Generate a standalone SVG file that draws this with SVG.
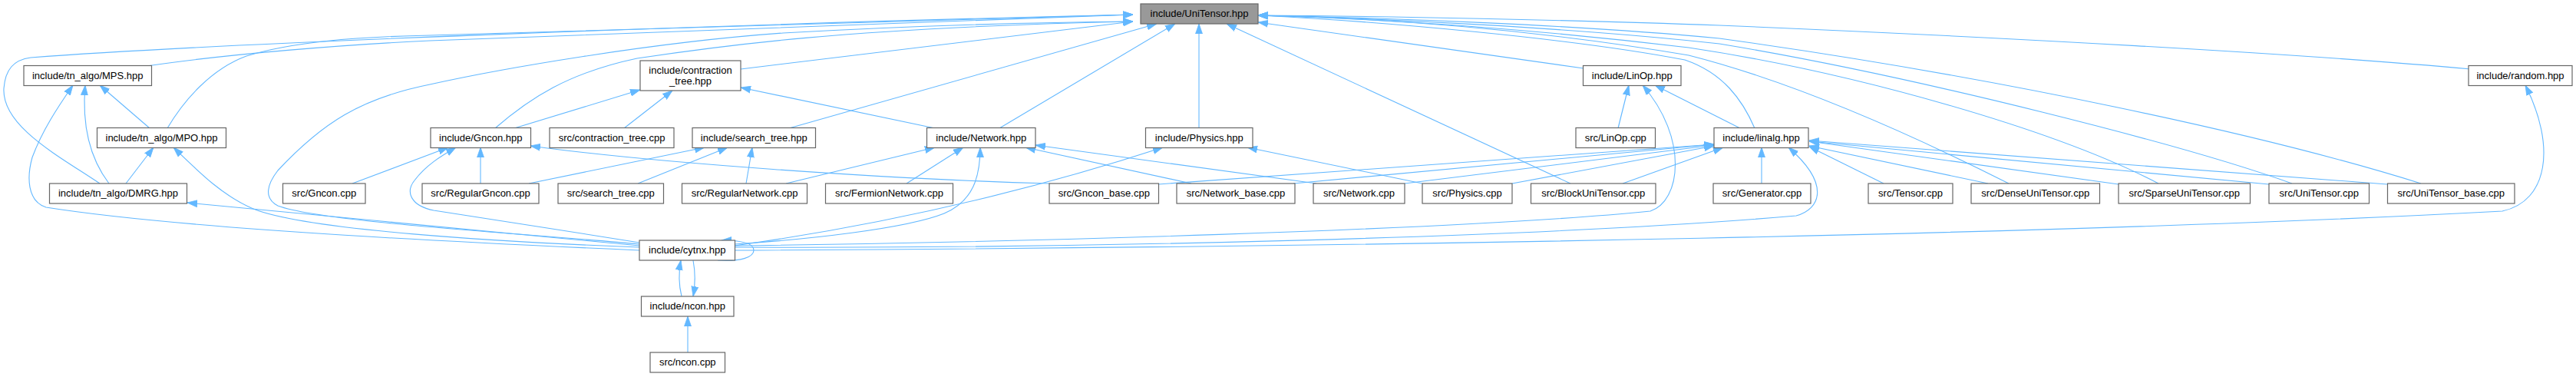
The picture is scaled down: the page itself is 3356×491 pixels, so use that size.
<svg xmlns="http://www.w3.org/2000/svg" width="3356" height="491" viewBox="0 0 3356 491">
<style>
.node rect{fill:#ffffff;stroke:#666666;stroke-width:1.2}
.root rect{fill:#999999}
text{font-family:"Liberation Sans",Arial,Helvetica,sans-serif;font-size:13px;text-anchor:middle;fill:#000000}
.edges path{fill:none;stroke:#63b8ff;stroke-width:1.1;marker-end:url(#ah)}
</style>
<defs>
<marker id="ah" viewBox="0 0 13 10" refX="13" refY="5" markerWidth="13" markerHeight="10" orient="auto" markerUnits="userSpaceOnUse">
<path d="M0,0.5 L13,5 L0,9.5 Z" fill="#63b8ff" stroke="#63b8ff" stroke-width="0.8"/>
</marker>
</defs>
<rect width="3356" height="491" fill="#ffffff"/>
<g class="edges">
<path d="M130,239 C80,205 2,165 5,115 C7,90 18,78 40,75 C300,55 1000,30 1476,19"/>
<path d="M218,167 C240,130 275,90 321,73 C380,55 460,48 560,46 C900,36 1200,26 1476,19"/>
<path d="M191,86 C300,70 450,58 560,53 C900,40 1200,28 1476,19"/>
<path d="M833,318 C700,305 420,290 362,268 C343,258 348,240 362,222 C420,160 470,128 560,110 C650,90 850,55 1020,43 C1200,33 1350,29 1476,28"/>
<path d="M645,167 C690,128 740,95 830,76 C930,61 1100,36 1476,28"/>
<path d="M965,90 L1476,28"/>
<path d="M1028,167 L1507,31"/>
<path d="M1302,167 L1531,31"/>
<path d="M1562,167 L1562,31"/>
<path d="M2046,239 L1598,31"/>
<path d="M2063,89 L1639,29"/>
<path d="M2286,167 C2270,130 2245,95 2195,78 C2050,50 1800,28 1639,20"/>
<path d="M2617,239 C2480,170 2330,105 2200,72 C2000,38 1800,24 1639,20"/>
<path d="M2812,239 C2680,170 2420,95 2200,62 C2000,38 1800,24 1639,20"/>
<path d="M2986,239 C2850,190 2500,100 2240,57 C2050,36 1800,24 1639,20"/>
<path d="M3154,239 C2950,175 2600,100 2240,50 C2050,32 1800,23 1639,20"/>
<path d="M3219,90 C3000,70 2600,48 2240,33 C2050,26 1800,21 1639,20"/>
<path d="M833,326 C650,318 250,300 60,270 C35,262 35,230 42,205 C55,170 75,140 95,111"/>
<path d="M142,239 C120,210 106,170 111,111"/>
<path d="M195,167 L130,111"/>
<path d="M164,239 L200,192"/>
<path d="M833,322 C650,315 400,300 330,272 C290,255 260,225 226,192"/>
<path d="M833,320 L244,264"/>
<path d="M459,239 L584,192"/>
<path d="M833,316 C750,303 640,285 565,274 C535,268 528,250 540,235 C555,215 575,203 594,192"/>
<path d="M626,239 L626,192"/>
<path d="M1367,239 C1150,233 850,212 691,190"/>
<path d="M670,167 L834,117"/>
<path d="M813,167 L876,118"/>
<path d="M1218,167 L965,114"/>
<path d="M689,239 L918,192"/>
<path d="M831,239 L948,192"/>
<path d="M972,239 L980,192"/>
<path d="M1024,239 L1218,192"/>
<path d="M1181,239 L1255,192"/>
<path d="M957,318 C1050,312 1180,298 1230,278 C1268,262 1277,230 1277,192"/>
<path d="M1552,239 L1336,192"/>
<path d="M1715,239 L1349,189"/>
<path d="M957,320 C1100,300 1300,262 1515,192"/>
<path d="M1853,239 L1625,192"/>
<path d="M1509,240 L2233,188"/>
<path d="M1685,239 L2233,188"/>
<path d="M1830,239 L2233,189"/>
<path d="M1970,239 L2233,190"/>
<path d="M2114,239 L2245,192"/>
<path d="M2295,239 L2295,192"/>
<path d="M957,322 C1400,324 2000,310 2340,281 C2372,272 2385,240 2330,192"/>
<path d="M2454,239 L2357,191"/>
<path d="M2590,239 L2357,190"/>
<path d="M2760,240 L2357,184"/>
<path d="M2956,240 L2357,184"/>
<path d="M3110,240 L2357,183"/>
<path d="M2267,167 L2156,111"/>
<path d="M2108,167 L2122,111"/>
<path d="M957,320 C1300,316 1900,300 2150,275 C2190,262 2200,180 2140,111"/>
<path d="M957,326 C1800,322 2700,305 3260,275 C3320,262 3330,190 3290,111"/>
<path d="M935,339 C965,341 982,335 982,326 C982,316 965,313 940,313"/>
<path d="M888,386 C884,370 884,355 887,339"/>
<path d="M903,339 C906,355 906,370 903,386"/>
<path d="M896,459 L896,412"/>
</g>
<g id="n_UniTensor_hpp" class="node root"><rect x="1486" y="5" width="153" height="26"/><text x="1562.5" y="22">include/UniTensor.hpp</text></g>
<g id="n_MPS_hpp" class="node"><rect x="31" y="85.5" width="166.5" height="26"/><text x="114.25" y="102.5">include/tn_algo/MPS.hpp</text></g>
<g id="n_contraction_tree_hpp" class="node"><rect x="834" y="79" width="131" height="39"/><text x="899.5" y="95.5">include/contraction</text><text x="899.5" y="109.5">_tree.hpp</text></g>
<g id="n_LinOp_hpp" class="node"><rect x="2062.5" y="85.5" width="127.5" height="26"/><text x="2126.25" y="102.5">include/LinOp.hpp</text></g>
<g id="n_random_hpp" class="node"><rect x="3216" y="85.5" width="135" height="26"/><text x="3283.5" y="102.5">include/random.hpp</text></g>
<g id="n_MPO_hpp" class="node"><rect x="126.5" y="166.5" width="168" height="26"/><text x="210.5" y="183.5">include/tn_algo/MPO.hpp</text></g>
<g id="n_Gncon_hpp" class="node"><rect x="561" y="166.5" width="130.5" height="26"/><text x="626.25" y="183.5">include/Gncon.hpp</text></g>
<g id="n_contraction_tree_cpp" class="node"><rect x="716" y="166.5" width="162" height="26"/><text x="797" y="183.5">src/contraction_tree.cpp</text></g>
<g id="n_search_tree_hpp" class="node"><rect x="902" y="166.5" width="160.5" height="26"/><text x="982.25" y="183.5">include/search_tree.hpp</text></g>
<g id="n_Network_hpp" class="node"><rect x="1207.5" y="166.5" width="141.5" height="26"/><text x="1278.25" y="183.5">include/Network.hpp</text></g>
<g id="n_Physics_hpp" class="node"><rect x="1492.5" y="166.5" width="139.5" height="26"/><text x="1562.25" y="183.5">include/Physics.hpp</text></g>
<g id="n_LinOp_cpp" class="node"><rect x="2053" y="166.5" width="103.5" height="26"/><text x="2104.75" y="183.5">src/LinOp.cpp</text></g>
<g id="n_linalg_hpp" class="node"><rect x="2233" y="166.5" width="123" height="26"/><text x="2294.5" y="183.5">include/linalg.hpp</text></g>
<g id="n_DMRG_hpp" class="node"><rect x="64.5" y="239" width="179" height="26"/><text x="154" y="256">include/tn_algo/DMRG.hpp</text></g>
<g id="n_Gncon_cpp" class="node"><rect x="368.5" y="239" width="107.5" height="26"/><text x="422.25" y="256">src/Gncon.cpp</text></g>
<g id="n_RegularGncon_cpp" class="node"><rect x="550" y="239" width="152" height="26"/><text x="626" y="256">src/RegularGncon.cpp</text></g>
<g id="n_search_tree_cpp" class="node"><rect x="727" y="239" width="137.5" height="26"/><text x="795.75" y="256">src/search_tree.cpp</text></g>
<g id="n_RegularNetwork_cpp" class="node"><rect x="888.5" y="239" width="163" height="26"/><text x="970" y="256">src/RegularNetwork.cpp</text></g>
<g id="n_FermionNetwork_cpp" class="node"><rect x="1075.5" y="239" width="166" height="26"/><text x="1158.5" y="256">src/FermionNetwork.cpp</text></g>
<g id="n_Gncon_base_cpp" class="node"><rect x="1367" y="239" width="142.5" height="26"/><text x="1438.25" y="256">src/Gncon_base.cpp</text></g>
<g id="n_Network_base_cpp" class="node"><rect x="1533" y="239" width="154" height="26"/><text x="1610" y="256">src/Network_base.cpp</text></g>
<g id="n_Network_cpp" class="node"><rect x="1711" y="239" width="119" height="26"/><text x="1770.5" y="256">src/Network.cpp</text></g>
<g id="n_Physics_cpp" class="node"><rect x="1853" y="239" width="117" height="26"/><text x="1911.5" y="256">src/Physics.cpp</text></g>
<g id="n_BlockUniTensor_cpp" class="node"><rect x="1994.5" y="239" width="162.5" height="26"/><text x="2075.75" y="256">src/BlockUniTensor.cpp</text></g>
<g id="n_Generator_cpp" class="node"><rect x="2232" y="239" width="127" height="26"/><text x="2295.5" y="256">src/Generator.cpp</text></g>
<g id="n_Tensor_cpp" class="node"><rect x="2434" y="239" width="110" height="26"/><text x="2489" y="256">src/Tensor.cpp</text></g>
<g id="n_DenseUniTensor_cpp" class="node"><rect x="2568" y="239" width="167.5" height="26"/><text x="2651.75" y="256">src/DenseUniTensor.cpp</text></g>
<g id="n_SparseUniTensor_cpp" class="node"><rect x="2760" y="239" width="171.5" height="26"/><text x="2845.75" y="256">src/SparseUniTensor.cpp</text></g>
<g id="n_UniTensor_cpp" class="node"><rect x="2956" y="239" width="130.5" height="26"/><text x="3021.25" y="256">src/UniTensor.cpp</text></g>
<g id="n_UniTensor_base_cpp" class="node"><rect x="3110.5" y="239" width="165.5" height="26"/><text x="3193.25" y="256">src/UniTensor_base.cpp</text></g>
<g id="n_cytnx_hpp" class="node"><rect x="833" y="313" width="124.5" height="26"/><text x="895.25" y="330">include/cytnx.hpp</text></g>
<g id="n_ncon_hpp" class="node"><rect x="835.5" y="386" width="120.5" height="26"/><text x="895.75" y="403">include/ncon.hpp</text></g>
<g id="n_ncon_cpp" class="node"><rect x="847" y="459" width="97.5" height="26"/><text x="895.75" y="476">src/ncon.cpp</text></g>
</svg>
